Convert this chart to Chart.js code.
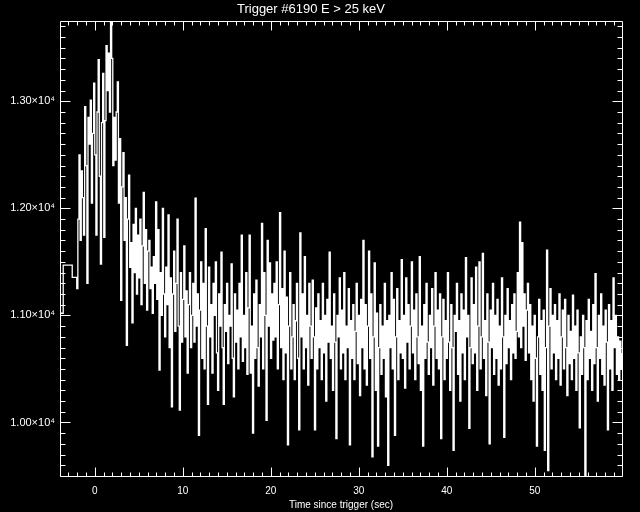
<!DOCTYPE html>
<html>
<head>
<meta charset="utf-8">
<script src="https://cdn.jsdelivr.net/npm/chart.js@4.4.1/dist/chart.umd.min.js"></script>
<style>
  html, body { margin: 0; padding: 0; background: #000; }
  #wrap { width: 640px; height: 512px; }
</style>
</head>
<body>
<div id="wrap"><canvas id="lc" width="640" height="512"></canvas></div>
<script>
// pre-trigger bins (1.024 s), bin start times
const timesPre = [-4.608, -3.584, -2.56];
const ratesPre = [11020, 11470, 11355];

// fine bins after -2.048 s, 0.128 s wide, one row = 1.024 s
const fineStart = -2.048;
const fineBin = 0.128;
const ratesFine = [
  11250, 11900, 12500, 11700, 12350, 12100, 11750, 12950,
  12400, 11300, 12850, 12600, 13010, 12050, 12700, 13170,
  12500, 11750, 12900, 13390, 12300, 11480, 12800, 13260,
  11730, 12820, 13520, 13100, 13450, 12900, 13760, 13400,
  12400, 12850, 12450, 12900, 13180, 12050, 12650, 11140,
  12200, 12520, 11700, 12100, 10720, 11900, 12310, 11450,
  11680, 10930, 11850, 11400, 12000, 11200, 11750, 11350,
  11900, 11100, 11650, 12150, 11300, 11800, 11050, 11600,
  11700, 11250, 11450, 11020, 11550, 11300, 12060, 11150,
  11800, 10490, 11400, 11000, 12000, 11200, 10800, 11450,
  11100, 11940, 10700, 11350, 10145, 11200, 11600, 10850,
  11300, 11900, 10900, 10115, 11400, 10750, 11150, 11650,
  10800, 11230, 10460, 11100, 11400, 10700, 11000, 11300,
  10750, 12095, 10900, 11200, 9880, 11050, 11500, 10600,
  11300, 10500, 11810, 10900, 10170, 11450, 10800, 11100,
  10460, 11300, 11000, 11500, 10650, 10300, 11200, 10900,
  11590, 10700, 10170, 11100, 10850, 11300, 10550, 11000,
  10900, 11480, 10600, 10240, 11200, 10750, 11050, 10500,
  11300, 10800, 11750, 10570, 11000, 10700, 11400, 10450,
  11070, 11750, 10460, 10900, 9900, 11200, 10600, 11330,
  10700, 10340, 11100, 10800, 11860, 10500, 11400, 11000,
  10020, 11700, 10900, 11490, 10600, 11200, 10770, 11300,
  10800, 11500, 10500, 11100, 11960, 10700, 11250, 10400,
  11600, 10650, 11170, 9790, 10900, 11400, 10500, 10800,
  11100, 10400, 10950, 11300, 10600, 9930, 11770, 10800,
  11200, 10500, 11550, 10700, 11000, 10350, 11300, 10900,
  10600, 11330, 10800, 9930, 11070, 10500, 11200, 10700,
  10950, 10400, 11300, 10650, 11000, 10200, 11150, 10750,
  11590, 10600, 10900, 10300, 11200, 10750, 9850, 11000,
  10800, 11350, 10500, 11050, 10650, 11400, 10400, 10900,
  10700, 11250, 9790, 10950, 10600, 11100, 10400, 10850,
  11300, 10550, 11000, 10250, 11150, 10700, 11700, 10500,
  11100, 10350, 10900, 11600, 10600, 11200, 9680, 10800,
  11490, 10300, 11020, 9780, 10700, 11100, 10450, 10900,
  10600, 11300, 10240, 10950, 9600, 11000, 10700, 11400,
  10500, 11150, 9880, 10800, 11250, 10400, 10950, 10650,
  11520, 10600, 11000, 10320, 11350, 10750, 11100, 10500,
  10900, 11500, 10650, 11050, 10400, 11200, 10800, 10550,
  11550, 10300, 10900, 9780, 11100, 10600, 11300, 10750,
  10450, 11000, 10700, 11250, 10350, 10900, 11400, 10600,
  11050, 10500, 11200, 9850, 10800, 11150, 10400, 10950,
  10600, 11400, 10750, 10300, 11100, 10700, 9740, 11000,
  10850, 11300, 10450, 10950, 10200, 11200, 10650, 11050,
  10400, 11540, 10800, 11000, 9945, 10700, 11350, 10550,
  11100, 10650, 11450, 10300, 10900, 11500, 10500, 10800,
  11580, 10600, 10950, 10250, 11200, 10750, 9800, 11050,
  10700, 11300, 10450, 11000, 10600, 11150, 10350, 10900,
  10500, 11350, 10800, 9860, 11000, 10550, 11250, 10700,
  10950, 10400, 11100, 10650, 11200, 10600, 10850, 11400,
  10800, 11870, 10700, 11680, 10900, 11200, 10580, 11050,
  11300, 10650, 11100, 10400, 10900, 10200, 11000, 10600,
  9780, 10800, 11150, 10450, 10950, 10300, 11050, 9740,
  10700, 11610, 9550, 10900, 11250, 10500, 11000, 10650,
  11100, 10400, 10950, 10600, 11200, 10350, 10800, 11050,
  10500, 11150, 10700, 10250, 11000, 10550, 10850, 10400,
  11190, 10600, 10900, 10300, 11050, 10650, 9950, 10800,
  10450, 11000, 10700, 9480, 10950, 10400, 11150, 10600,
  10850, 10300, 11100, 10550, 11390, 10700, 10200, 11000,
  10600, 11200, 10450, 10900, 10350, 11050, 10750, 9930,
  11100, 10500, 10950, 10300, 11350, 10700, 11000, 10450,
  10800, 10400, 10760, 10500, 10650, 10440, 10600, 10550
];

const xTickValues = [0, 10, 20, 30, 40, 50];
const yTickValues = [10000, 11000, 12000, 13000];

const points = [];
timesPre.forEach((t, i) => points.push({x: t, y: ratesPre[i]}));
ratesFine.forEach((v, i) => points.push({x: fineStart + i * fineBin, y: v}));

function sciLabel(v) {
    return (v / 10000).toFixed(2) + '\u00d710\u2074';
}

// IDL-style frame with inward ticks on all four sides
const frameTicks = {
    id: 'frameTicks',
    afterDraw(chart) {
        const {ctx, chartArea: a, scales: {x, y}} = chart;
        const L = Math.round(a.left) + 0.5, R = Math.round(a.right) + 0.5;
        const T = Math.round(a.top) + 0.5, B = Math.round(a.bottom) + 0.5;
        ctx.save();
        ctx.strokeStyle = '#fff';
        ctx.lineWidth = 1;
        ctx.beginPath();
        ctx.rect(L, T, R - L, B - T);
        for (let t = Math.ceil(x.min); t <= x.max; t += 1) {
            const px = Math.round(x.getPixelForValue(t)) + 0.5;
            const len = t % 10 === 0 ? 9 : 4;
            ctx.moveTo(px, B); ctx.lineTo(px, B - len);
            ctx.moveTo(px, T); ctx.lineTo(px, T + len);
        }
        for (let v = Math.ceil(y.min / 100) * 100; v <= y.max; v += 100) {
            const py = Math.round(y.getPixelForValue(v)) + 0.5;
            const len = v % 1000 === 0 ? 10 : 5;
            ctx.moveTo(L, py); ctx.lineTo(L + len, py);
            ctx.moveTo(R, py); ctx.lineTo(R - len, py);
        }
        ctx.stroke();
        // y title, almost entirely off the left edge as in the original
        ctx.fillStyle = '#fff';
        ctx.font = '10px "Liberation Sans"';
        ctx.translate(-1, (T + B) / 2);
        ctx.rotate(-Math.PI / 2);
        ctx.textAlign = 'center';
        ctx.textBaseline = 'alphabetic';
        ctx.fillText('Counts/sec', 0, 0);
        ctx.restore();
    }
};

Chart.defaults.color = '#fff';
Chart.defaults.font.family = '"Liberation Sans", "DejaVu Sans", sans-serif';
Chart.defaults.font.size = 10;

new Chart(document.getElementById('lc'), {
    type: 'line',
    data: {
        datasets: [{
            data: points,
            borderColor: '#fff',
            borderWidth: 1.3,
            pointRadius: 0,
            stepped: 'before',
            fill: false
        }]
    },
    options: {
        responsive: false,
        animation: false,
        layout: {padding: {left: 0, right: 18, top: 0, bottom: 0}},
        plugins: {
            legend: {display: false},
            tooltip: {enabled: false},
            title: {
                display: true,
                text: 'Trigger #6190 E > 25 keV',
                color: '#fff',
                font: {size: 13, weight: 'normal'},
                padding: {top: 2, bottom: 3.4}
            }
        },
        scales: {
            x: {
                type: 'linear',
                min: -3.95,
                max: 59.9,
                grid: {display: false, drawTicks: false},
                border: {display: false},
                afterBuildTicks: s => { s.ticks = xTickValues.map(v => ({value: v})); },
                afterFit: s => { s.height = 36; },
                ticks: {padding: 9, maxRotation: 0, color: '#fff', callback: v => String(v)},
                title: {display: true, text: 'Time since trigger (sec)', color: '#fff', padding: {top: 0, bottom: 1}}
            },
            y: {
                min: 9500,
                max: 13750,
                grid: {display: false, drawTicks: false},
                border: {display: false},
                afterBuildTicks: s => { s.ticks = yTickValues.map(v => ({value: v})); },
                afterFit: s => { s.width = 60; },
                ticks: {padding: 5, color: '#fff', font: {size: 11}, callback: v => sciLabel(v)}
            }
        }
    },
    plugins: [frameTicks]
});
</script>
</body>
</html>
